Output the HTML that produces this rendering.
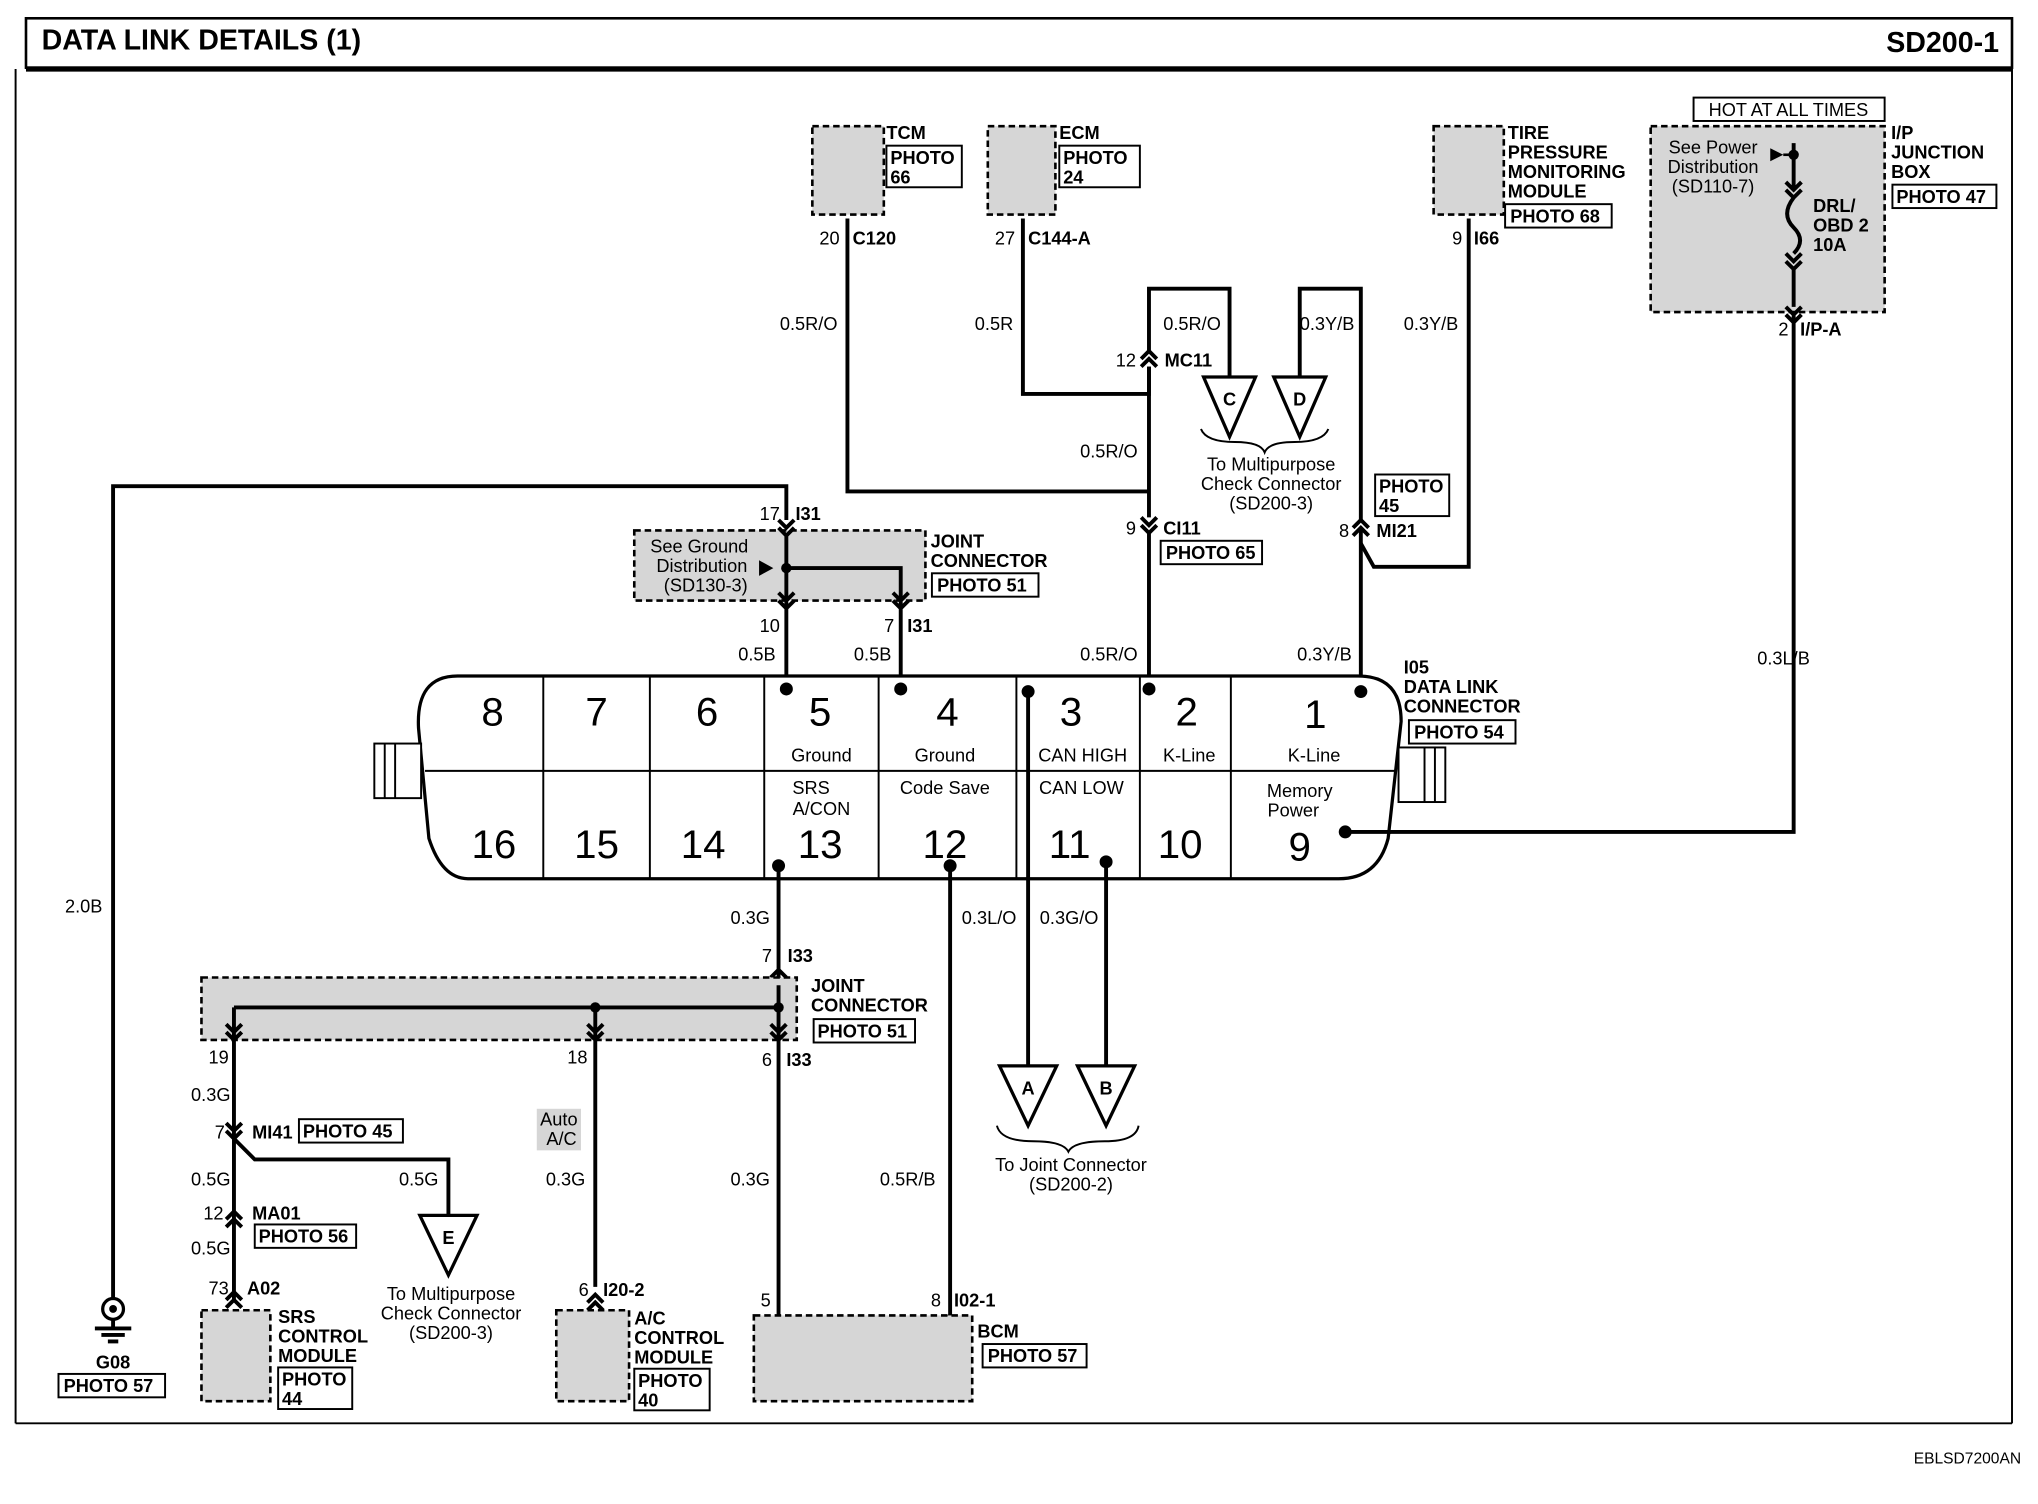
<!DOCTYPE html>
<html><head><meta charset="utf-8"><style>
html,body{margin:0;padding:0;background:#fff;}
svg{display:block;}
text{font-family:"Liberation Sans",Arial,sans-serif;fill:#000;}
.b{font-weight:bold;font-size:14px;}
.r{font-size:14px;}
.w{fill:none;stroke:#000;stroke-width:3;}
.t{fill:none;stroke:#000;stroke-width:1.5;}
.d{fill:#d6d6d6;stroke:#000;stroke-width:2;stroke-dasharray:5,3;}
.pb{fill:#fff;stroke:#000;stroke-width:1.5;}
</style></head><body>
<svg width="2038" height="1504" viewBox="0 0 1568 1157" xmlns="http://www.w3.org/2000/svg">
<rect x="0" y="0" width="1568" height="1157" fill="#fff"/>
<rect x="20" y="14" width="1528" height="38" fill="#fff" stroke="#000" stroke-width="2"/>
<line x1="20" y1="53" x2="1548" y2="53" stroke="#000" stroke-width="4"/>
<line x1="12" y1="53" x2="12" y2="1095" stroke="#000" stroke-width="1.5"/>
<line x1="1548" y1="53" x2="1548" y2="1095" stroke="#000" stroke-width="1.5"/>
<line x1="12" y1="1095" x2="1548" y2="1095" stroke="#000" stroke-width="1.5"/>
<text x="32" y="38" style="font-weight:bold;font-size:22px">DATA LINK DETAILS (1)</text>
<text x="1538" y="40" text-anchor="end" style="font-weight:bold;font-size:22px">SD200-1</text>
<text x="1555" y="1126" text-anchor="end" style="font-size:12px">EBLSD7200AN</text>

<rect class="d" x="625" y="97" width="55" height="68"/>
<text class="b" x="682" y="107">TCM</text>
<rect class="pb" x="682" y="112" width="58" height="32"/><text class="b" x="685" y="126">PHOTO</text><text class="b" x="685" y="141">66</text>
<text class="r" x="646" y="188" text-anchor="end">20</text><text class="b" x="656" y="188">C120</text>

<rect class="d" x="760" y="97" width="52" height="68"/>
<text class="b" x="815" y="107">ECM</text>
<rect class="pb" x="815" y="112" width="62" height="32"/><text class="b" x="818" y="126">PHOTO</text><text class="b" x="818" y="141">24</text>
<text class="r" x="781" y="188" text-anchor="end">27</text><text class="b" x="791" y="188">C144-A</text>

<rect class="d" x="1103" y="97" width="54" height="68"/>
<text class="b" x="1160" y="107">TIRE</text><text class="b" x="1160" y="122">PRESSURE</text><text class="b" x="1160" y="137">MONITORING</text><text class="b" x="1160" y="152">MODULE</text>
<rect class="pb" x="1158" y="157" width="82" height="18"/><text class="b" x="1162" y="171">PHOTO 68</text>
<text class="r" x="1125" y="188" text-anchor="end">9</text><text class="b" x="1134" y="188">I66</text>

<rect class="pb" x="1303" y="75" width="147" height="18"/><text class="r" x="1376" y="89" text-anchor="middle">HOT AT ALL TIMES</text>
<rect class="d" x="1270" y="97" width="180" height="143"/>
<text class="b" x="1455" y="107">I/P</text><text class="b" x="1455" y="122">JUNCTION</text><text class="b" x="1455" y="137">BOX</text>
<rect class="pb" x="1456" y="142" width="80" height="18"/><text class="b" x="1459" y="156">PHOTO 47</text>
<text class="r" x="1318" y="118" text-anchor="middle">See Power</text><text class="r" x="1318" y="133" text-anchor="middle">Distribution</text><text class="r" x="1318" y="148" text-anchor="middle">(SD110-7)</text>
<polygon points="1362,114 1372,119 1362,124" fill="#000"/><line x1="1372" y1="119" x2="1380" y2="119" stroke="#000" stroke-width="2"/>
<circle cx="1380" cy="119" r="4" fill="#000"/>
<path class="w" d="M1380 110 V145 M1374 140 L1380 146 L1386 140 M1374 146 L1380 152 L1386 146 M1380 152 Q1370 165 1380 175 Q1390 185 1380 195 M1374 195 L1380 201 L1386 195 M1374 201 L1380 207 L1386 201 M1380 207 V236"/>
<text class="b" x="1395" y="163">DRL/</text><text class="b" x="1395" y="178">OBD 2</text><text class="b" x="1395" y="193">10A</text>
<path class="w" d="M1374 236 L1380 242 L1386 236 M1374 242 L1380 248 L1386 242 M1380 242 V640 H1035"/>
<text class="r" x="1376" y="258" text-anchor="end">2</text><text class="b" x="1385" y="258">I/P-A</text>
<text class="r" x="1352" y="511">0.3L/B</text>

<path class="w" d="M652 168 V378 H884"/>
<text class="r" x="600" y="254">0.5R/O</text>
<path class="w" d="M787 168 V303 H884 V282"/>
<text class="r" x="750" y="254">0.5R</text>
<path class="w" d="M878 276 L884 270 L890 276 M878 282 L884 276 L890 282 M884 270 V222 H946 V290"/>
<text class="r" x="874" y="282" text-anchor="end">12</text><text class="b" x="896" y="282">MC11</text>
<text class="r" x="895" y="254">0.5R/O</text>
<path class="w" d="M884 282 V398"/>
<text class="r" x="831" y="352">0.5R/O</text>
<path class="w" d="M878 398 L884 404 L890 398 M878 404 L884 410 L890 404 M884 410 V528"/>
<text class="r" x="874" y="411" text-anchor="end">9</text><text class="b" x="895" y="411">CI11</text>
<rect class="pb" x="893" y="416" width="78" height="18"/><text class="b" x="897" y="430">PHOTO 65</text>
<text class="r" x="831" y="508">0.5R/O</text>
<polygon points="926,290 966,290 946,336" fill="#fff" stroke="#000" stroke-width="2.5"/>
<text class="b" x="946" y="312" text-anchor="middle">C</text>
<polygon points="980,290 1020,290 1000,336" fill="#fff" stroke="#000" stroke-width="2.5"/>
<text class="b" x="1000" y="312" text-anchor="middle">D</text>
<path class="t" d="M924 330 Q928 340 950 340 Q970 340 973 348 Q976 340 996 340 Q1018 340 1022 330"/>
<text class="r" x="978" y="362" text-anchor="middle">To Multipurpose</text><text class="r" x="978" y="377" text-anchor="middle">Check Connector</text><text class="r" x="978" y="392" text-anchor="middle">(SD200-3)</text>
<path class="w" d="M1000 290 V222 H1047 V400"/>
<text class="r" x="1000" y="254">0.3Y/B</text>
<path class="w" d="M1130 168 V436 H1057 L1047 418"/>
<text class="r" x="1080" y="254">0.3Y/B</text>
<rect class="pb" x="1058" y="365" width="57" height="32"/><text class="b" x="1061" y="379">PHOTO</text><text class="b" x="1061" y="394">45</text>
<path class="w" d="M1041 406 L1047 400 L1053 406 M1041 412 L1047 406 L1053 412 M1047 406 V528"/>
<text class="r" x="1038" y="413" text-anchor="end">8</text><text class="b" x="1059" y="413">MI21</text>
<text class="r" x="998" y="508">0.3Y/B</text>

<path class="w" d="M87 1000 V374 H605 V400"/>
<text class="r" x="50" y="702">2.0B</text>
<text class="r" x="600" y="400" text-anchor="end">17</text><text class="b" x="612" y="400">I31</text>
<rect class="d" x="488" y="408" width="224" height="54"/>
<text class="r" x="538" y="425" text-anchor="middle">See Ground</text><text class="r" x="540" y="440" text-anchor="middle">Distribution</text><text class="r" x="543" y="455" text-anchor="middle">(SD130-3)</text>
<polygon points="584,431 595,437 584,443" fill="#000"/>
<path class="w" d="M599 400 L605 406 L611 400 M599 406 L605 412 L611 406 M605 412 V528 M605 437 H693 V528 M599 456 L605 462 L611 456 M599 462 L605 468 L611 462 M687 456 L693 462 L699 456 M687 462 L693 468 L699 462"/>
<circle cx="605" cy="437" r="4" fill="#000"/>
<text class="b" x="716" y="421">JOINT</text><text class="b" x="716" y="436">CONNECTOR</text>
<rect class="pb" x="717" y="441" width="82" height="18"/><text class="b" x="721" y="455">PHOTO 51</text>
<text class="r" x="600" y="486" text-anchor="end">10</text>
<text class="r" x="688" y="486" text-anchor="end">7</text><text class="b" x="698" y="486">I31</text>
<text class="r" x="568" y="508">0.5B</text><text class="r" x="657" y="508">0.5B</text>

<path d="M352 520 H1045 Q1078 520 1078 555 L1068 645 Q1060 676 1030 676 H360 Q340 676 330 645 L322 560 Q320 520 352 520 Z" fill="#fff" stroke="#000" stroke-width="2.5"/>
<line x1="327" y1="593" x2="1074" y2="593" stroke="#000" stroke-width="1.5"/>
<g stroke="#000" stroke-width="1.5">
<line x1="418" y1="520" x2="418" y2="676"/><line x1="500" y1="520" x2="500" y2="676"/><line x1="588" y1="520" x2="588" y2="676"/><line x1="676" y1="520" x2="676" y2="676"/><line x1="782" y1="520" x2="782" y2="676"/><line x1="877" y1="520" x2="877" y2="676"/><line x1="947" y1="520" x2="947" y2="676"/>
</g>
<line x1="1035" y1="640" x2="1070" y2="640" stroke="#000" stroke-width="3"/>
<g fill="#fff" stroke="#000" stroke-width="1.5">
<rect x="288" y="572" width="36" height="42"/><line x1="296" y1="572" x2="296" y2="614"/><line x1="304" y1="572" x2="304" y2="614"/>
<rect x="1076" y="575" width="36" height="42"/><line x1="1096" y1="575" x2="1096" y2="617"/><line x1="1104" y1="575" x2="1104" y2="617"/>
</g>
<g style="font-size:31px" text-anchor="middle">
<text x="379" y="558">8</text><text x="459" y="558">7</text><text x="544" y="558">6</text><text x="631" y="558">5</text><text x="729" y="558">4</text><text x="824" y="558">3</text><text x="913" y="558">2</text><text x="1012" y="560">1</text>
<text x="380" y="660">16</text><text x="459" y="660">15</text><text x="541" y="660">14</text><text x="631" y="660">13</text><text x="727" y="660">12</text><text x="823" y="660">11</text><text x="908" y="660">10</text><text x="1000" y="662">9</text>
</g>
<g class="r" text-anchor="middle">
<text x="632" y="586">Ground</text><text x="727" y="586">Ground</text><text x="833" y="586">CAN HIGH</text><text x="915" y="586">K-Line</text><text x="1011" y="586">K-Line</text>
<text x="624" y="611">SRS</text><text x="632" y="627">A/CON</text><text x="727" y="611">Code Save</text><text x="832" y="611">CAN LOW</text><text x="1000" y="613">Memory</text><text x="995" y="628">Power</text>
</g>
<g fill="#000"><circle cx="605" cy="530" r="5"/><circle cx="693" cy="530" r="5"/><circle cx="884" cy="530" r="5"/><circle cx="1047" cy="532" r="5"/><circle cx="791" cy="532" r="5"/><circle cx="599" cy="666" r="5"/><circle cx="731" cy="666" r="5"/><circle cx="851" cy="663" r="5"/><circle cx="1035" cy="640" r="5"/></g>
<text class="b" x="1080" y="518">I05</text><text class="b" x="1080" y="533">DATA LINK</text><text class="b" x="1080" y="548">CONNECTOR</text>
<rect class="pb" x="1084" y="554" width="82" height="18"/><text class="b" x="1088" y="568">PHOTO 54</text>

<path class="w" d="M791 532 V820 M851 663 V820"/>
<text class="r" x="740" y="711">0.3L/O</text><text class="r" x="800" y="711">0.3G/O</text>
<polygon points="769,820 813,820 791,866" fill="#fff" stroke="#000" stroke-width="2.5"/><text class="b" x="791" y="842" text-anchor="middle">A</text>
<polygon points="829,820 873,820 851,866" fill="#fff" stroke="#000" stroke-width="2.5"/><text class="b" x="851" y="842" text-anchor="middle">B</text>
<path class="t" d="M767 866 Q770 878 795 878 Q818 878 822 886 Q826 878 850 878 Q874 878 876 866"/>
<text class="r" x="824" y="901" text-anchor="middle">To Joint Connector</text><text class="r" x="824" y="916" text-anchor="middle">(SD200-2)</text>

<path class="w" d="M599 666 V752 M593 752 L599 746 L605 752 M593 758 L599 752 L605 758"/>
<text class="r" x="562" y="711">0.3G</text>
<text class="r" x="594" y="740" text-anchor="end">7</text><text class="b" x="606" y="740">I33</text>
<rect class="d" x="155" y="752" width="458" height="48"/>
<path class="w" d="M599 758 V1015 M180 775 H599 M180 775 V1000 M458 775 V990 M174 788 L180 794 L186 788 M174 794 L180 800 L186 794 M452 788 L458 794 L464 788 M452 794 L458 800 L464 794 M593 788 L599 794 L605 788 M593 794 L599 800 L605 794"/>
<circle cx="458" cy="775" r="4" fill="#000"/><circle cx="599" cy="775" r="4" fill="#000"/>
<text class="b" x="624" y="763">JOINT</text><text class="b" x="624" y="778">CONNECTOR</text>
<rect class="pb" x="626" y="784" width="78" height="18"/><text class="b" x="629" y="798">PHOTO 51</text>
<text class="r" x="176" y="818" text-anchor="end">19</text><text class="r" x="452" y="818" text-anchor="end">18</text>
<text class="r" x="594" y="820" text-anchor="end">6</text><text class="b" x="605" y="820">I33</text>
<text class="r" x="147" y="847">0.3G</text>
<path class="w" d="M174 864 L180 870 L186 864 M174 870 L180 876 L186 870 M180 876 L196 892 H345 V935"/>
<text class="r" x="173" y="876" text-anchor="end">7</text><text class="b" x="194" y="876">MI41</text>
<rect class="pb" x="230" y="861" width="80" height="18"/><text class="b" x="233" y="875">PHOTO 45</text>
<text class="r" x="147" y="912">0.5G</text><text class="r" x="307" y="912">0.5G</text>
<polygon points="323,935 367,935 345,981" fill="#fff" stroke="#000" stroke-width="2.5"/><text class="b" x="345" y="957" text-anchor="middle">E</text>
<text class="r" x="347" y="1000" text-anchor="middle">To Multipurpose</text><text class="r" x="347" y="1015" text-anchor="middle">Check Connector</text><text class="r" x="347" y="1030" text-anchor="middle">(SD200-3)</text>
<path class="w" d="M174 938 L180 932 L186 938 M174 944 L180 938 L186 944 M174 1000 L180 994 L186 1000 M174 1006 L180 1000 L186 1006"/>
<text class="r" x="172" y="938" text-anchor="end">12</text><text class="b" x="194" y="938">MA01</text>
<rect class="pb" x="196" y="942" width="78" height="18"/><text class="b" x="199" y="956">PHOTO 56</text>
<text class="r" x="147" y="965">0.5G</text>
<text class="r" x="176" y="996" text-anchor="end">73</text><text class="b" x="190" y="996">A02</text>
<rect class="d" x="155" y="1008" width="53" height="70"/>
<text class="b" x="214" y="1018">SRS</text><text class="b" x="214" y="1033">CONTROL</text><text class="b" x="214" y="1048">MODULE</text>
<rect class="pb" x="214" y="1052" width="57" height="32"/><text class="b" x="217" y="1066">PHOTO</text><text class="b" x="217" y="1081">44</text>

<rect x="413" y="853" width="34" height="32" fill="#d6d6d6"/>
<text class="r" x="430" y="866" text-anchor="middle">Auto</text><text class="r" x="432" y="881" text-anchor="middle">A/C</text>
<text class="r" x="420" y="912">0.3G</text>
<path class="w" d="M452 1002 L458 996 L464 1002 M452 1008 L458 1002 L464 1008"/>
<text class="r" x="453" y="997" text-anchor="end">6</text><text class="b" x="464" y="997">I20-2</text>
<rect class="d" x="428" y="1008" width="56" height="70"/>
<text class="b" x="488" y="1019">A/C</text><text class="b" x="488" y="1034">CONTROL</text><text class="b" x="488" y="1049">MODULE</text>
<rect class="pb" x="488" y="1053" width="58" height="32"/><text class="b" x="491" y="1067">PHOTO</text><text class="b" x="491" y="1082">40</text>

<text class="r" x="562" y="912">0.3G</text>
<path class="w" d="M731 666 V1015"/>
<text class="r" x="677" y="912">0.5R/B</text>
<path class="w" d="M593 1018 L599 1012 L605 1018 M593 1024 L599 1018 L605 1024 M725 1018 L731 1012 L737 1018 M725 1024 L731 1018 L737 1024"/>
<text class="r" x="593" y="1005" text-anchor="end">5</text>
<text class="r" x="724" y="1005" text-anchor="end">8</text><text class="b" x="734" y="1005">I02-1</text>
<rect class="d" x="580" y="1012" width="168" height="66"/>
<text class="b" x="752" y="1029">BCM</text>
<rect class="pb" x="756" y="1034" width="80" height="18"/><text class="b" x="760" y="1048">PHOTO 57</text>

<circle cx="87" cy="1007" r="8" fill="#fff" stroke="#000" stroke-width="2.5"/>
<circle cx="87" cy="1007" r="3" fill="#000"/>
<path class="w" d="M87 1015 V1022 M73 1022 H101 M78 1027 H96 M83 1032 H91"/>
<text class="b" x="87" y="1053" text-anchor="middle">G08</text>
<rect class="pb" x="45" y="1057" width="82" height="18"/><text class="b" x="49" y="1071">PHOTO 57</text>
</svg>
</body></html>
